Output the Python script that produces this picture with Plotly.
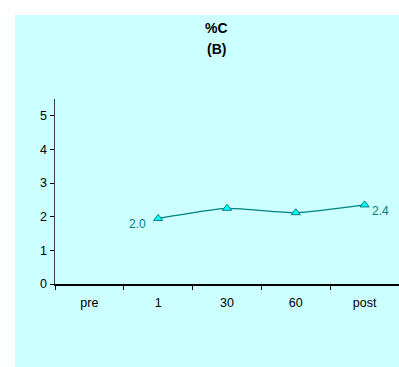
import plotly.graph_objects as go

categories = ["pre", "1", "30", "60", "post"]
times = ["1", "30", "60", "post"]
values = [1.95, 2.25, 2.12, 2.35]
label_text = ["2.0", "", "", "2.4"]

W, H = 399, 367
L, R, T, B = 55, 0, 99, 83
pw, ph = W - L - R, H - T - B

def px(x):
    return (x - L) / pw

def py(y):
    return (H - B - y) / ph

FONT = "Liberation Sans, Arial, sans-serif"

fig = go.Figure()
fig.add_trace(go.Scatter(
    x=times, y=values, mode="lines+markers",
    line=dict(color="#008080", width=1.2, shape="spline", smoothing=0.6),
    marker=dict(symbol="triangle-up", size=8, color="#00FFFF",
                line=dict(color="#008080", width=1)),
    hoverinfo="skip", showlegend=False,
))

annos = []
for i, (t, v, lab) in enumerate(zip(times, values, label_text)):
    if not lab:
        continue
    annos.append(dict(x=t, y=v, xref="x", yref="y", text=lab, showarrow=False,
                      xanchor="right" if i == 0 else "left", yanchor="middle",
                      xshift=-10 if i == 0 else 5, yshift=-6,
                      font=dict(family=FONT, size=12, color="#008080")))
annos.append(dict(x=px(216.5), y=py(28.5), xref="paper", yref="paper", text="<b>%C</b>",
                  xanchor="center", yanchor="middle",
                  showarrow=False, font=dict(family=FONT, size=14, color="black")))
annos.append(dict(x=px(216.5), y=py(49), xref="paper", yref="paper", text="<b>(B)</b>",
                  xanchor="center", yanchor="middle",
                  showarrow=False, font=dict(family=FONT, size=14, color="black")))

fig.update_layout(
    width=W, height=H,
    margin=dict(l=L, r=R, t=T, b=B, pad=0),
    paper_bgcolor="white", plot_bgcolor="rgba(0,0,0,0)",
    font=dict(family=FONT, size=12.5, color="black"),
    shapes=[dict(type="rect", xref="paper", yref="paper",
                 x0=px(15), x1=px(410), y0=py(380), y1=py(15),
                 fillcolor="#CCFFFF", line=dict(width=0), layer="below")],
    annotations=annos,
    xaxis=dict(type="category", categoryorder="array", categoryarray=categories,
               range=[-0.5, 4.5], tickson="boundaries", ticks="outside", ticklen=4,
               ticklabelstandoff=6,
               tickcolor="black", showline=True, linecolor="black", linewidth=1.5,
               showgrid=False, zeroline=False, tickfont=dict(size=12.5)),
    yaxis=dict(range=[0, 5.5], tickvals=[0, 1, 2, 3, 4, 5], ticks="outside", ticklen=4,
               tickcolor="black", showline=True, linecolor="#404040", linewidth=1.5,
               showgrid=False, zeroline=False, tickfont=dict(size=12.5)),
)

fig.write_html(
    "out.html",
    config={"displayModeBar": False, "staticPlot": True},
    post_script="document.body.style.margin='0';document.body.style.overflow='hidden';",
)
